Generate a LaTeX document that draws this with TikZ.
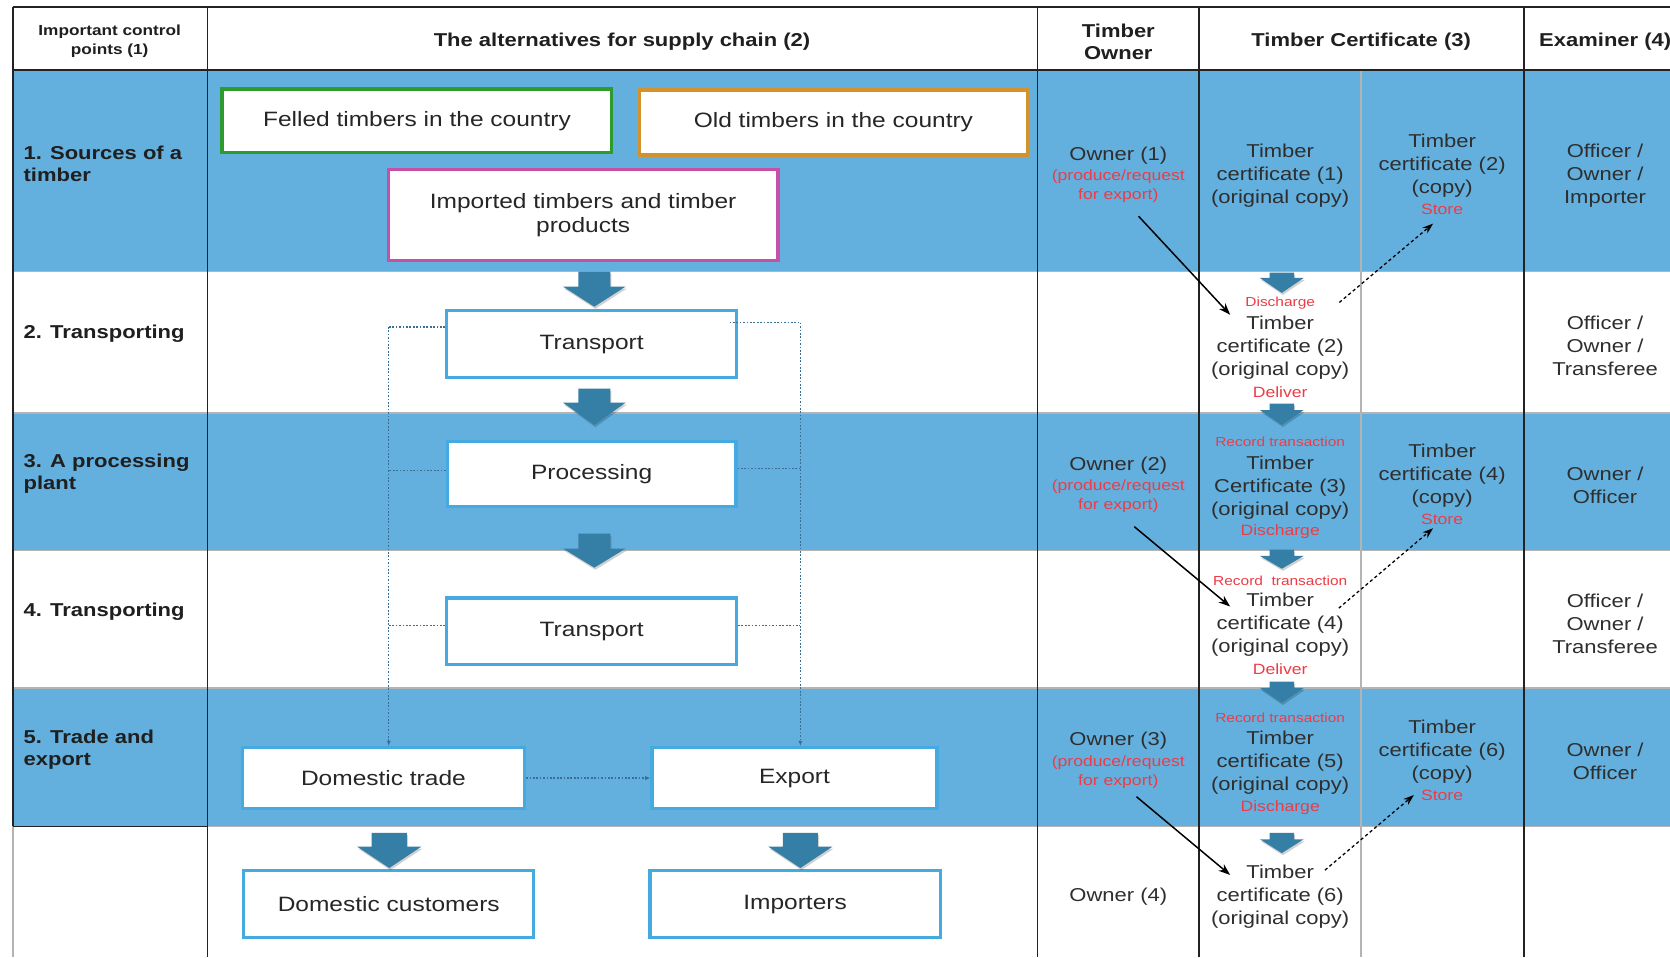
\documentclass[tikz,border=0pt]{standalone}
\usepackage{fontspec}
\setmainfont{Liberation Sans}[FakeStretch=1.18]
\usetikzlibrary{arrows.meta,calc}
\definecolor{tblue}{HTML}{63B0DE}
\definecolor{abox}{HTML}{45AAE0}
\definecolor{afill}{HTML}{357EA6}
\definecolor{tred}{HTML}{EE3B45}
\definecolor{gline}{HTML}{B4B4B4}
\definecolor{dotc}{HTML}{3A6F95}
\definecolor{cgreen}{HTML}{2E9B2E}
\definecolor{corange}{HTML}{D4922C}
\definecolor{cmag}{HTML}{C550A8}
\definecolor{tline}{HTML}{222222}
\newcommand\ftbox{\fontsize{19.5}{23}\selectfont}
\newcommand\ftcell{\fontsize{17.5}{21.6}\selectfont}
\newcommand\ftred{\fontsize{14}{18}\selectfont}
\newcommand\ftredsm{\fontsize{12.3}{15}\selectfont}
\newcommand\fthdr{\fontsize{17.5}{21}\selectfont\bfseries}
\newcommand\ftsmhdr{\fontsize{13.7}{18}\selectfont\bfseries}
% block arrow: cx, top, shaft half, head half, head y, tip y
\newcommand\blkarrow[6]{%
  \fill[black,opacity=0.18] ({#1-#3+1},{#2+2}) -- ({#1+#3+1},{#2+2}) -- ({#1+#3+1},{#5+2}) -- ({#1+#4+1},{#5+2}) -- ({#1+1},{#6+2}) -- ({#1-#4+1},{#5+2}) -- ({#1-#3+1},{#5+2}) -- cycle;
  \fill[afill] ({#1-#3},#2) -- ({#1+#3},#2) -- ({#1+#3},#5) -- ({#1+#4},#5) -- (#1,#6) -- ({#1-#4},#5) -- ({#1-#3},#5) -- cycle;}
\tikzset{
  box/.style={draw=abox, line width=3pt, fill=white, inner sep=0pt, font=\ftbox, align=center, text=black!85},
  cell/.style={font=\ftcell, align=center, inner sep=0pt, text=black!82, yshift=-1.5pt},
  redt/.style={font=\ftred, align=center, inner sep=0pt, text=tred, yshift=-1pt},
  redsm/.style={font=\ftredsm, align=center, inner sep=0pt, text=tred, yshift=-1pt},
  hdr/.style={font=\fthdr, align=center, inner sep=0pt, text=black!88, yshift=-1.5pt},
  rowlbl/.style={font=\fthdr, align=left, anchor=west, inner sep=0pt, text=black!88, yshift=-1.5pt},
  blkline/.style={draw=tline, line width=1.5pt},
  gryline/.style={draw=gline, line width=1.5pt},
  dotline/.style={draw=dotc, line width=1pt, dash pattern=on 1.6pt off 1.6pt},
  solidarr/.style={draw=black, line width=1.4pt, -{Stealth[length=11pt,width=8pt]}},
  dasharr/.style={draw=black, line width=1.2pt, dash pattern=on 3pt off 2.5pt, -{Stealth[length=10pt,width=7pt]}}
}
\begin{document}
\begin{tikzpicture}[x=1pt,y=-1pt]
\useasboundingbox (0,0) rectangle (1568,899);
\fill[white] (0,0) rectangle (1568,899);
% row backgrounds
\fill[tblue] (12,66) rectangle (1568,255);
\fill[tblue] (12,388) rectangle (1568,517);
\fill[tblue] (12,646) rectangle (1568,776);
% grey row lines
\foreach \yy in {255,388,517,646,776} {\draw[gryline] (12,\yy) -- (1568,\yy);}
% grey sub-divider
\draw[gryline] (1278,66) -- (1278,899);
\draw[gryline] (12,776) -- (12,899);
% black table lines
\draw[blkline] (12,6.5) -- (1568,6.5);
\draw[blkline, line width=2pt] (12,66) -- (1568,66);
\draw[blkline] (12,6.5) -- (12,776);
\draw[blkline] (12,776) -- (195,776);
\foreach \xx in {195,974,1126,1431} {\draw[blkline] (\xx,6.5) -- (\xx,899);}

% headers
\node[font=\ftsmhdr, align=center, inner sep=0pt, text=black!88] (h1) at (103,38.5) {Important control\\points (1)};
\node[hdr] (h2) at (584,38) {The alternatives for supply chain (2)};
\node[hdr] (h3) at (1050,38) {Timber\\Owner};
\node[hdr] (h4) at (1278,38) {Timber Certificate (3)};
\node[hdr, anchor=west] (h5) at (1445,38) {Examiner (4)};

% row labels
\node[rowlbl] (r1) at (22,152.5) {1. Sources of a\\timber};
\node[rowlbl] (r2) at (22,312) {2. Transporting};
\node[rowlbl] (r3) at (22,443.5) {3. A processing\\plant};
\node[rowlbl] (r4) at (22,573) {4. Transporting};
\node[rowlbl] (r5) at (22,702.5) {5. Trade and\\export};

% supply chain boxes
\node[box, draw=cgreen, minimum width=366pt, minimum height=60pt] (felled) at (391.5,113.5) {Felled timbers in the country};
\node[box, draw=corange, minimum width=364pt, minimum height=61pt] (old) at (782.5,115) {Old timbers in the country};
\node[box, draw=cmag, minimum width=366pt, minimum height=85pt] (imp) at (547.5,202) {Imported timbers and timber\\products};
\node[box, minimum width=272pt, minimum height=62.5pt] (tr1) at (555.5,323) {Transport};
\node[box, minimum width=271pt, minimum height=61pt] (proc) at (555.5,445) {Processing};
\node[box, minimum width=272pt, minimum height=62.5pt] (tr2) at (555.5,592.7) {Transport};
\node[box, minimum width=265pt, minimum height=57pt] (dom) at (360,730.5) {Domestic trade};
\node[box, minimum width=267.5pt, minimum height=57pt] (exp) at (746,730.5) {Export};
\node[box, minimum width=272.5pt, minimum height=63pt] (cust) at (365,849) {Domestic customers};
\node[box, minimum width=272.5pt, minimum height=63pt] (impr) at (746.5,849) {Importers};

% big block arrows
\blkarrow{558}{255}{15}{29.5}{269}{288}
\blkarrow{558}{365}{15}{29.5}{378}{399}
\blkarrow{558}{501}{15}{29.5}{515}{533}
\blkarrow{365.5}{782}{16.5}{30}{795}{815}
\blkarrow{751.5}{782}{16.5}{30}{795}{815}

% dotted bypass lines
\coordinate (lb) at (365,307);
\coordinate (rb) at (751.5,303);
\draw[dotline] (tr1.west |- lb) -- (lb);
\draw[dotline, -{Latex[length=5pt,width=4pt]}] (lb) -- (lb |- dom.north);
\draw[dotline] ($(proc.west)+(0,-3)$) -- ($(lb |- proc.west)+(0,-3)$);
\draw[dotline] ($(tr2.west)+(0,-5)$) -- ($(lb |- tr2.west)+(0,-5)$);
\draw[dotline] ($(tr1.east |- rb)+(-8,0)$) -- (rb);
\draw[dotline, -{Latex[length=5pt,width=4pt]}] (rb) -- (rb |- exp.north);
\draw[dotline] ($(proc.east)+(0,-5)$) -- ($(rb |- proc.east)+(0,-5)$);
\draw[dotline] ($(tr2.east)+(0,-5)$) -- ($(rb |- tr2.east)+(0,-5)$);
\draw[dotline, -{Latex[length=5pt,width=4pt]}] (dom.east) -- (exp.west);

% timber owner column
\node[cell] (o1) at (1050,145) {Owner (1)};
\node[redt] (o1r) at (1050,174) {(produce/request\\for export)};
\node[cell] (o2) at (1050,436) {Owner (2)};
\node[redt] (o2r) at (1050,465) {(produce/request\\for export)};
\node[cell] (o3) at (1050,694) {Owner (3)};
\node[redt] (o3r) at (1050,724) {(produce/request\\for export)};
\node[cell] (o4) at (1050,840) {Owner (4)};

% certificate original column
\node[cell] (c1) at (1202,163.5) {Timber\\certificate (1)\\(original copy)};
\node[redsm] (c2a) at (1202,284) {Discharge};
\node[cell] (c2) at (1202,325) {Timber\\certificate (2)\\(original copy)};
\node[redt] (c2b) at (1202,367) {Deliver};
\node[redsm] (c3a) at (1202,414) {Record transaction};
\node[cell] (c3) at (1202,456) {Timber\\Certificate (3)\\(original copy)};
\node[redt] (c3b) at (1202,498) {Discharge};
\node[redsm] (c4a) at (1202,544) {Record\ \ transaction};
\node[cell] (c4) at (1202,585) {Timber\\certificate (4)\\(original copy)};
\node[redt] (c4b) at (1202,627) {Deliver};
\node[redsm] (c5a) at (1202,673) {Record transaction};
\node[cell] (c5) at (1202,715) {Timber\\certificate (5)\\(original copy)};
\node[redt] (c5b) at (1202,757) {Discharge};
\node[cell] (c6) at (1202,840) {Timber\\certificate (6)\\(original copy)};

% small block arrows in certificate column
\blkarrow{1203.5}{256}{11.5}{20.5}{261}{275}
\blkarrow{1203.5}{379}{11.5}{20.5}{385}{399}
\blkarrow{1203.5}{516}{11.5}{20.5}{522}{534}
\blkarrow{1203.5}{640}{11.5}{20.5}{646}{660}
\blkarrow{1203.5}{782}{11.5}{20.5}{788}{801}

% certificate copy column
\node[cell] (k2) at (1354,154.5) {Timber\\certificate (2)\\(copy)};
\node[redt] (k2s) at (1354,196) {Store};
\node[cell] (k4) at (1354,445.5) {Timber\\certificate (4)\\(copy)};
\node[redt] (k4s) at (1354,487) {Store};
\node[cell] (k6) at (1354,704) {Timber\\certificate (6)\\(copy)};
\node[redt] (k6s) at (1354,746) {Store};

% examiner column
\node[cell] (x1) at (1507,163.5) {Officer /\\Owner /\\Importer};
\node[cell] (x2) at (1507,323) {Officer /\\Owner /\\Transferee};
\node[cell] (x3) at (1507,454) {Owner /\\Officer};
\node[cell] (x4) at (1507,584) {Officer /\\Owner /\\Transferee};
\node[cell] (x5) at (1507,713) {Owner /\\Officer};

% diagonal connectors
\coordinate (d1s) at (1069,203);   \coordinate (d1e) at (1155,295.5);
\coordinate (e1s) at (1257.5,284); \coordinate (e1e) at (1345.5,210);
\coordinate (d2s) at (1065,494.5); \coordinate (d2e) at (1155,569.5);
\coordinate (e2s) at (1257,571);   \coordinate (e2e) at (1345.5,496);
\coordinate (d3s) at (1067,748);   \coordinate (d3e) at (1155,821.5);
\coordinate (e3s) at (1244,817);   \coordinate (e3e) at (1327.5,746.5);
\draw[solidarr] (d1s) -- (d1e);
\draw[dasharr] (e1s) -- (e1e);
\draw[solidarr] (d2s) -- (d2e);
\draw[dasharr] (e2s) -- (e2e);
\draw[solidarr] (d3s) -- (d3e);
\draw[dasharr] (e3s) -- (e3e);
\end{tikzpicture}
\end{document}
